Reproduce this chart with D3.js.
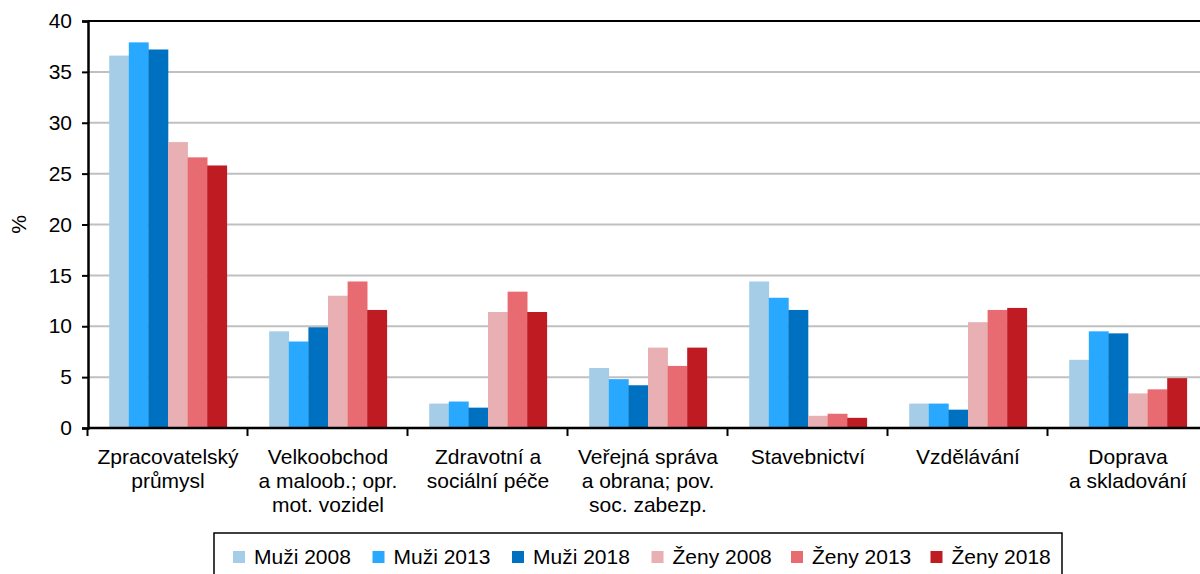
<!DOCTYPE html>
<html>
<head>
<meta charset="utf-8">
<script src="https://cdn.jsdelivr.net/npm/d3@7"></script>
<style>
  body { margin: 0; background: #fff; }
  svg { display: block; font-family: "Liberation Sans", Arial, sans-serif; }
</style>
</head>
<body>
<div id="chart"></div>
<script>
// kategorie (víceřádkové popisky)
const categories = [
  ["Zpracovatelský", "průmysl"],
  ["Velkoobchod", "a maloob.; opr.", "mot. vozidel"],
  ["Zdravotní a", "sociální péče"],
  ["Veřejná správa", "a obrana; pov.", "soc. zabezp."],
  ["Stavebnictví"],
  ["Vzdělávání"],
  ["Doprava", "a skladování"]
]
const seriesNames = ["Muži 2008", "Muži 2013", "Muži 2018", "Ženy 2008", "Ženy 2013", "Ženy 2018"]
const seriesColors = ["#a6cde8", "#29a8ff", "#0070c0", "#e8b0b2", "#e96b72", "#be1b22"]

const muzi2008 = [36.6, 9.5, 2.4, 5.9, 14.4, 2.4, 6.7]
const muzi2013 = [37.9, 8.5, 2.6, 4.8, 12.8, 2.4, 9.5]
const muzi2018 = [37.2, 9.9, 2.0, 4.2, 11.6, 1.8, 9.3]
const zeny2008 = [28.1, 13.0, 11.4, 7.9, 1.2, 10.4, 3.4]
const zeny2013 = [26.6, 14.4, 13.4, 6.1, 1.4, 11.6, 3.8]
const zeny2018 = [25.8, 11.6, 11.4, 7.9, 1.0, 11.8, 4.9]
const yTicks = [0, 5, 10, 15, 20, 25, 30, 35, 40]

const series = [muzi2008, muzi2013, muzi2018, zeny2008, zeny2013, zeny2018]

const width = 1200, height = 574
const plotL = 88, plotR = 1208, plotT = 21, plotB = 428
const fs = 21

const svg = d3.select("#chart").append("svg")
  .attr("width", width)
  .attr("height", height)

const catKeys = categories.map(d => d.join(" "))

const x0 = d3.scaleBand()
  .domain(catKeys)
  .range([plotL, plotR])
  .paddingInner(0.265)
  .paddingOuter(0.1325)

const x1 = d3.scaleBand()
  .domain(d3.range(series.length))
  .range([0, x0.bandwidth()])

const y = d3.scaleLinear()
  .domain([0, 40])
  .range([plotB, plotT])

// mřížka
svg.append("g")
  .selectAll("line")
  .data(yTicks.slice(1, -1))
  .join("line")
  .attr("x1", plotL).attr("x2", plotR)
  .attr("y1", d => y(d)).attr("y2", d => y(d))
  .attr("stroke", "#c0c0c0")
  .attr("stroke-width", 2)

// horní okraj
svg.append("line")
  .attr("x1", plotL).attr("x2", plotR)
  .attr("y1", y(40)).attr("y2", y(40))
  .attr("stroke", "#000")
  .attr("stroke-width", 2)

// sloupce
const rows = catKeys.map((c, i) => ({ key: c, values: series.map(s => s[i]) }))

svg.append("g")
  .selectAll("g")
  .data(rows)
  .join("g")
  .attr("transform", d => `translate(${x0(d.key)},0)`)
  .selectAll("rect")
  .data(d => d.values.map((v, i) => ({ i, v })))
  .join("rect")
  .attr("x", d => x1(d.i))
  .attr("width", x1.bandwidth() + 0.3)
  .attr("y", d => y(d.v))
  .attr("height", d => y(0) - y(d.v))
  .attr("fill", d => seriesColors[d.i])

// osa y
const yAxis = svg.append("g")
  .attr("transform", `translate(${plotL},0)`)
  .call(d3.axisLeft(y).tickValues(yTicks).tickSize(6).tickPadding(10).tickFormat(d3.format("d")))
yAxis.select(".domain").attr("stroke", "#000").attr("stroke-width", 2.5)
yAxis.selectAll(".tick line").attr("stroke", "#000").attr("stroke-width", 2)
yAxis.selectAll("text")
  .attr("font-size", fs)
  .attr("font-family", "Liberation Sans, Arial, sans-serif")
  .attr("fill", "#000")

// osa x
const xTickPos = catKeys.map(c => x0(c) - x0.step() * x0.paddingInner() / 2 - 0.5)
svg.append("line")
  .attr("x1", plotL).attr("x2", plotR)
  .attr("y1", plotB).attr("y2", plotB)
  .attr("stroke", "#000")
  .attr("stroke-width", 2.5)
svg.append("g")
  .selectAll("line")
  .data(xTickPos)
  .join("line")
  .attr("x1", d => d).attr("x2", d => d)
  .attr("y1", plotB).attr("y2", plotB + 8)
  .attr("stroke", "#000")
  .attr("stroke-width", 2)

// popisky kategorií
svg.append("g")
  .selectAll("text")
  .data(categories)
  .join("text")
  .attr("x", (d, i) => x0(catKeys[i]) + x0.bandwidth() / 2)
  .attr("y", 464)
  .attr("text-anchor", "middle")
  .attr("font-size", fs)
  .attr("fill", "#000")
  .selectAll("tspan")
  .data(d => d)
  .join("tspan")
  .attr("x", function () { return d3.select(this.parentNode).attr("x") })
  .attr("dy", (d, i) => i === 0 ? 0 : 24)
  .text(d => d)

// název osy y
svg.append("text")
  .attr("transform", `translate(26,${(plotT + plotB) / 2}) rotate(-90)`)
  .attr("text-anchor", "middle")
  .attr("font-size", fs)
  .attr("fill", "#000")
  .text("%")

// legenda
const legend = svg.append("g")
legend.append("rect")
  .attr("x", 214).attr("y", 533)
  .attr("width", 848).attr("height", 60)
  .attr("fill", "#fff")
  .attr("stroke", "#000")
  .attr("stroke-width", 1.5)

const item = legend.selectAll("g")
  .data(seriesNames)
  .join("g")
  .attr("transform", (d, i) => `translate(${233 + i * 139.5},557)`)
item.append("rect")
  .attr("x", 0).attr("y", -6)
  .attr("width", 12).attr("height", 12)
  .attr("fill", (d, i) => seriesColors[i])
item.append("text")
  .attr("x", 21)
  .attr("y", 7)
  .attr("font-size", fs)
  .attr("fill", "#000")
  .text(d => d)
</script>
</body>
</html>
